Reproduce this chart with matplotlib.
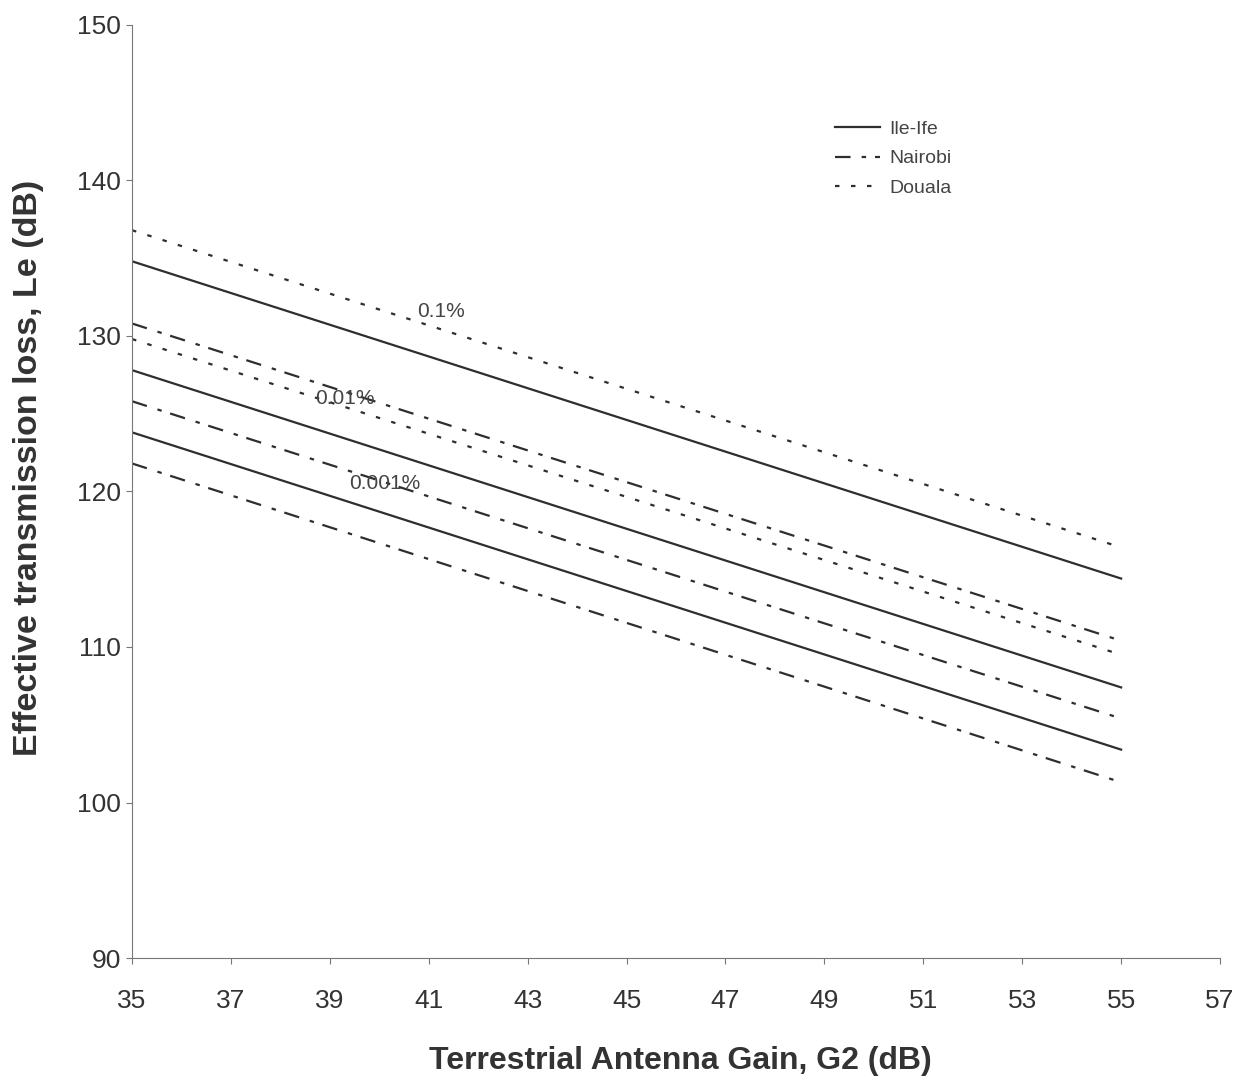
import matplotlib
matplotlib.use("Agg")
import matplotlib.pyplot as plt

plt.rcParams['font.family'] = ['Liberation Sans', 'DejaVu Sans']

gain = [35, 55]
ileife_01 = [134.8, 114.4]
douala_01 = [136.8, 116.4]
nairobi_001 = [130.8, 110.4]
douala_001 = [129.8, 109.5]
ileife_001 = [127.8, 107.4]
nairobi_0001 = [125.8, 105.4]
ileife_0001 = [123.8, 103.4]
nairobi_00001 = [121.8, 101.3]

annotations = [("0.1%", 41.25, 131.6), ("0.01%", 39.3, 126.0), ("0.001%", 40.1, 120.5)]

fig = plt.figure(figsize=(12.48, 10.83), dpi=100)
ax = fig.add_axes([0.1058, 0.1154, 0.8718, 0.8616])

col = '#2e2e2e'
solid = dict(color=col, lw=1.6, linestyle='-')
dashdot = dict(color=col, lw=1.6, linestyle=(0, (7, 5, 2, 4)))
dotted = dict(color=col, lw=1.6, linestyle=(0, (2, 5.2)))

ax.plot(gain, ileife_01, label='Ile-Ife', **solid)
ax.plot(gain, nairobi_001, label='Nairobi', **dashdot)
ax.plot(gain, douala_01, label='Douala', **dotted)
ax.plot(gain, douala_001, **dotted)
ax.plot(gain, ileife_001, **solid)
ax.plot(gain, nairobi_0001, **dashdot)
ax.plot(gain, ileife_0001, **solid)
ax.plot(gain, nairobi_00001, **dashdot)

for txt, x, y in annotations:
    ax.text(x, y, txt, fontsize=15, color='#444444', ha='center', va='center')

ax.set_xlim(35, 57)
ax.set_ylim(90, 150)
ax.set_xticks(range(35, 58, 2))
ax.set_yticks(range(90, 151, 10))
ax.tick_params(axis='both', labelsize=19, direction='out', length=4)
ax.tick_params(axis='x', pad=18)
ax.tick_params(axis='y', pad=4)
ax.tick_params(colors='#777777', which='both', labelcolor='#333333')
for s in ['top', 'right']:
    ax.spines[s].set_visible(False)
for s in ['left', 'bottom']:
    ax.spines[s].set_color('#777777')

ax.set_xlabel('Terrestrial Antenna Gain, G2 (dB)', fontsize=23, fontweight='bold', color='#333333')
ax.set_ylabel('Effective transmission loss, Le (dB)', fontsize=24.5, fontweight='bold', color='#333333')
ax.xaxis.set_label_coords(0.504, -0.094)
ax.yaxis.set_label_coords(-0.081, 0.525)

leg = ax.legend(loc='upper left', bbox_to_anchor=(0.646, 0.898), frameon=False, fontsize=14,
                handlelength=2.3, labelspacing=0.62, handletextpad=0.5,
                borderpad=0, borderaxespad=0)
for t in leg.get_texts():
    t.set_color('#444444')

fig.savefig('out.png', dpi=100)
